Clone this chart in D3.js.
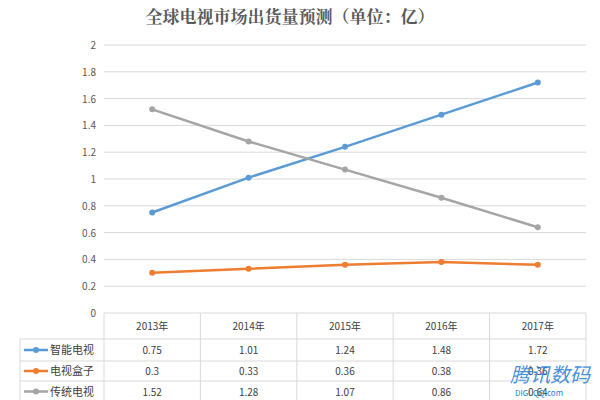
<!DOCTYPE html><html><head><meta charset="utf-8"><script src="https://cdn.jsdelivr.net/npm/d3@7"></script>
<style>body{margin:0;background:#fff}text{font-family:"Noto Sans CJK SC",sans-serif}</style></head><body><svg width="600" height="400"></svg><script>
const categories=["2013年","2014年","2015年","2016年","2017年"];
const seriesNames=["智能电视","电视盒子","传统电视"];
const smartTV=[0.75,1.01,1.24,1.48,1.72];
const tvBox=[0.3,0.33,0.36,0.38,0.36];
const traditionalTV=[1.52,1.28,1.07,0.86,0.64];
const yTicks=[0,0.2,0.4,0.6,0.8,1,1.2,1.4,1.6,1.8,2];
const colors=["#5b9bd5","#ed7d31","#a5a5a5"];
const series=[smartTV,tvBox,traditionalTV];
const svg=d3.select("svg");
const x=d3.scaleBand().domain(categories).range([104,586]);
const y=d3.scaleLinear().domain([0,2]).range([313,45]);
svg.append("text").attr("x",290).attr("y",23).attr("text-anchor","middle").attr("font-size",17).attr("font-weight","bold").attr("fill","#595959").style("font-family","'Noto Serif CJK SC','Noto Sans CJK SC',serif").text("全球电视市场出货量预测（单位：亿）");
svg.append("g").selectAll("line").data(yTicks.slice(1)).join("line").attr("x1",104).attr("x2",586).attr("y1",d=>y(d)).attr("y2",d=>y(d)).attr("stroke","#d9d9d9");
svg.append("g").selectAll("text").data(yTicks).join("text").attr("x",96).attr("y",d=>y(d)+4).attr("text-anchor","end").attr("font-size",10).attr("fill","#595959").text(d=>d);
series.forEach((s,i)=>{
 const line=d3.line().x((d,j)=>x(categories[j])+x.bandwidth()/2).y(d=>y(d));
 svg.append("path").datum(s).attr("d",line).attr("fill","none").attr("stroke",colors[i]).attr("stroke-width",2.5);
 svg.append("g").selectAll("circle").data(s).join("circle").attr("cx",(d,j)=>x(categories[j])+x.bandwidth()/2).attr("cy",d=>y(d)).attr("r",3).attr("fill",colors[i]);
});
// table
const rowY=[313,339,361,381,402];
const g=svg.append("g").attr("stroke","#d9d9d9");
rowY.forEach((ry,k)=>g.append("line").attr("x1",k==0?104:20).attr("x2",586).attr("y1",ry).attr("y2",ry));
g.append("line").attr("x1",20).attr("x2",20).attr("y1",339).attr("y2",402);
categories.forEach(c=>g.append("line").attr("x1",x(c)).attr("x2",x(c)).attr("y1",313).attr("y2",402));
g.append("line").attr("x1",586).attr("x2",586).attr("y1",313).attr("y2",402);
svg.append("g").selectAll("text").data(categories).join("text").attr("x",d=>x(d)+x.bandwidth()/2).attr("y",330).attr("text-anchor","middle").attr("font-size",10).attr("fill","#404040").text(d=>d);
series.forEach((s,i)=>{
 const cy=(rowY[i+1]+rowY[i+2])/2;
 svg.append("line").attr("x1",24).attr("x2",48).attr("y1",cy).attr("y2",cy).attr("stroke",colors[i]).attr("stroke-width",2.5);
 svg.append("circle").attr("cx",36).attr("cy",cy).attr("r",3).attr("fill",colors[i]);
 svg.append("text").attr("x",50).attr("y",cy+4).attr("font-size",11).attr("fill","#404040").text(seriesNames[i]);
 svg.append("g").selectAll("text").data(s).join("text").attr("x",(d,j)=>x(categories[j])+x.bandwidth()/2).attr("y",cy+4).attr("text-anchor","middle").attr("font-size",10).attr("fill","#404040").text(d=>d);
});
svg.append("text").attr("x",510).attr("y",382).attr("font-size",20).attr("font-style","italic").attr("fill","#2a7fd4").attr("opacity",0.85).text("腾讯数码");
svg.append("text").attr("x",515).attr("y",396).attr("font-size",8).attr("fill","#2a7fd4").text("DIGI.QQ.com");
</script></body></html>
